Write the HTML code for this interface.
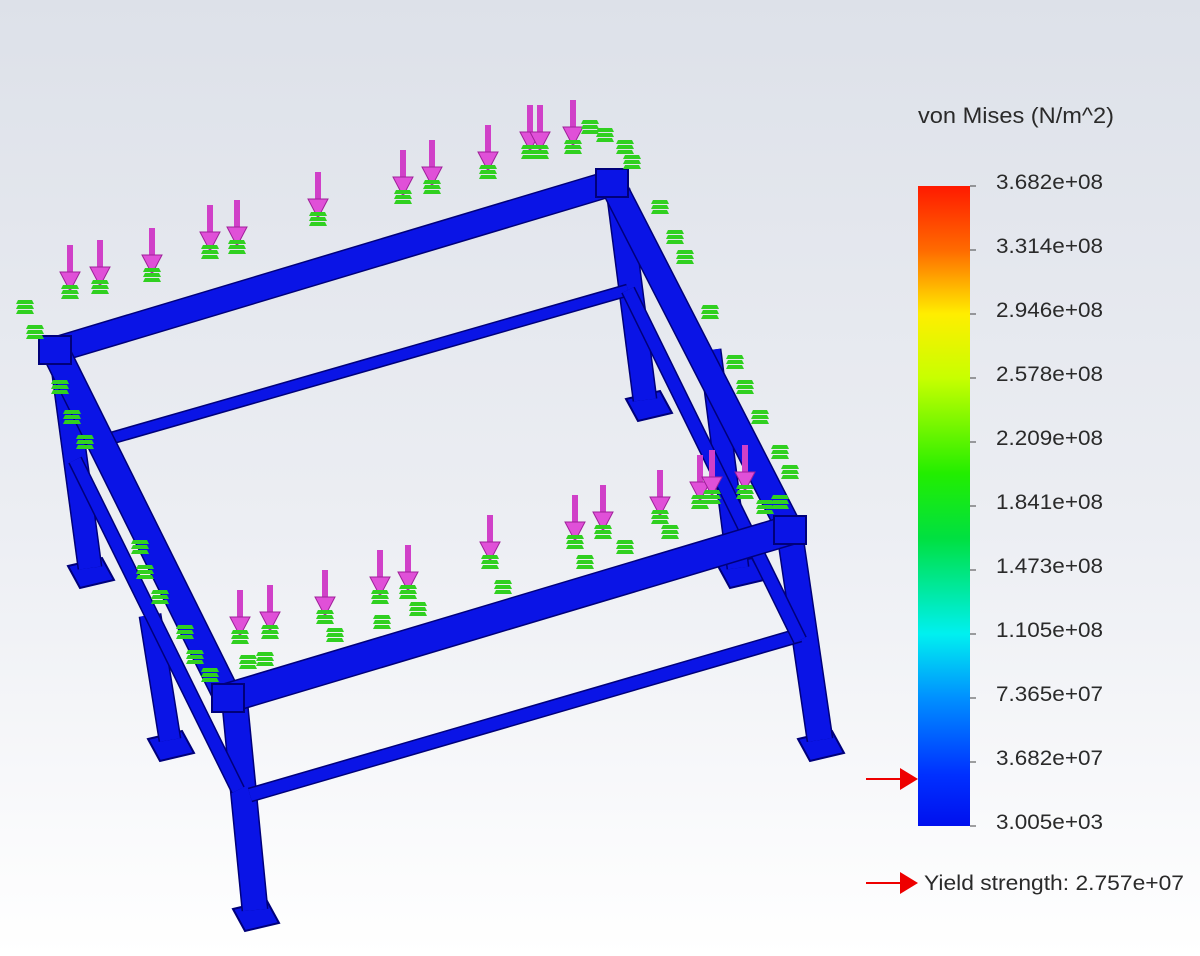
<!DOCTYPE html>
<html><head><meta charset="utf-8"><style>
html,body{margin:0;padding:0;width:1200px;height:956px;overflow:hidden}
body{background:linear-gradient(#dde1e9 0%,#eceef3 55%,#ffffff 100%);font-family:"Liberation Sans",sans-serif}
svg{position:absolute;left:0;top:0}
</style></head><body>
<svg width="1200" height="956">
<defs>
<linearGradient id="cb" x1="0" y1="0" x2="0" y2="1">
<stop offset="0" stop-color="#ff1a00"/><stop offset="0.1" stop-color="#ff6a00"/>
<stop offset="0.2" stop-color="#ffee00"/><stop offset="0.3" stop-color="#c8ff00"/>
<stop offset="0.45" stop-color="#22ee00"/><stop offset="0.55" stop-color="#00e040"/>
<stop offset="0.7" stop-color="#00f0f0"/><stop offset="0.8" stop-color="#0090ff"/>
<stop offset="0.92" stop-color="#0030ff"/><stop offset="1" stop-color="#0010ee"/>
</linearGradient>
</defs>
<g id="frame" stroke-linecap="butt"></g>
<g id="loads"></g>
<g font-size="21" fill="#2a2a2a">
<text x="918" y="123" font-size="22" textLength="196" lengthAdjust="spacingAndGlyphs">von Mises (N/m^2)</text>
<rect x="918" y="186" width="52" height="640" fill="url(#cb)"/>
<g id="ticks"></g>
<path d="M866 779H902" stroke="#e00" stroke-width="2"/>
<polygon points="900,768 918,779 900,790" fill="#e00"/>
<path d="M866 883H902" stroke="#e00" stroke-width="2"/>
<polygon points="900,872 918,883 900,894" fill="#e00"/>
<text x="924" y="890" textLength="260" lengthAdjust="spacingAndGlyphs">Yield strength: 2.757e+07</text>
</g>
</svg>
<script>
const tickLabels=["3.682e+08","3.314e+08","2.946e+08","2.578e+08","2.209e+08","1.841e+08","1.473e+08","1.105e+08","7.365e+07","3.682e+07","3.005e+03"];
const NS="http://www.w3.org/2000/svg";
function mk(tag,attrs,parent){const e=document.createElementNS(NS,tag);for(const k in attrs)e.setAttribute(k,attrs[k]);parent.appendChild(e);return e;}
const tk=document.getElementById('ticks');
tickLabels.forEach((t,i)=>{const y=186+i*64;
 const l=mk('line',{x1:970,x2:976,y1:y,y2:y,stroke:'#444','stroke-width':1},tk);
 
 
 const tx=mk('text',{x:996,y:y+3,textLength:107,lengthAdjust:'spacingAndGlyphs'},tk);tx.textContent=t;
 
 
});
const fr=document.getElementById('frame');
function beam(x1,y1,x2,y2,w,name){
 const g=mk('g',{},fr);
 
 
 mk('line',{x1,y1,x2,y2,stroke:'#00007a','stroke-width':w+3},g);
 mk('line',{x1,y1,x2,y2,stroke:'#0a14e6','stroke-width':w},g);
}
function foot(x,y){const p=mk('polygon',{points:`${x-22},${y-6} ${x+12},${y-14} ${x+24},${y+8} ${x-10},${y+16}`,fill:'#0a14e6',stroke:'#00007a','stroke-width':2},fr);
 
 }
[[90,572],[170,745],[255,915],[820,745],[740,572],[648,405]].forEach(f=>foot(f[0],f[1]));
beam(62,360,90,568,22,'leg-back-left');
beam(150,615,170,740,20,'leg-mid-left');
beam(235,705,255,910,24,'leg-front-left');
beam(618,190,645,400,22,'leg-back-right');
beam(710,350,738,568,20,'leg-mid-right');
beam(790,535,820,740,24,'leg-front-right');
beam(105,440,628,290,10,'lower-rail-back');
beam(250,795,800,635,12,'lower-rail-front');
beam(75,460,238,790,12,'lower-rail-left');
beam(628,290,800,640,12,'lower-rail-right');
beam(55,350,612,183,24,'top-beam-back');
beam(612,183,790,530,24,'top-beam-right');
beam(55,350,228,698,26,'top-beam-left');
beam(228,698,790,530,28,'top-beam-front');
[[55,350],[612,183],[790,530],[228,698]].forEach(c=>{const r=mk('rect',{x:c[0]-16,y:c[1]-14,width:32,height:28,fill:'#0a14e6',stroke:'#00007a','stroke-width':2},fr);
 
 });
const ld=document.getElementById('loads');
function mag(x,y){const g=mk('g',{},ld);
 
 
 mk('line',{x1:x,y1:y,x2:x,y2:y+30,stroke:'#d040c8','stroke-width':6},g);
 mk('polygon',{points:`${x-10},${y+27} ${x+10},${y+27} ${x},${y+46}`,fill:'#e050d8',stroke:'#a0209a','stroke-width':1},g);}
function grn(x,y){const g=mk('g',{},ld);
 
 
 for(let i=0;i<3;i++)mk('polygon',{points:`${x-7},${y+i*5} ${x+7},${y+i*5} ${x+9},${y+i*5+4} ${x-9},${y+i*5+4}`,fill:'#30d020'},g);}
[[70,245],[100,240],[152,228],[210,205],[237,200],[318,172],[403,150],[432,140],[488,125],[530,105],[540,105],[573,100],
 [240,590],[270,585],[325,570],[380,550],[408,545],[490,515],[575,495],[603,485],[660,470],[700,455],[712,450],[745,445]].forEach(p=>{mag(p[0],p[1]);grn(p[0],p[1]+40);});
[[25,300],[35,325],[60,380],[72,410],[85,435],[140,540],[145,565],[160,590],[185,625],[195,650],[210,668],[248,655],[265,652],
 [590,120],[605,128],[625,140],[632,155],[660,200],[675,230],[685,250],[710,305],[735,355],[745,380],[760,410],[780,445],[790,465],[765,500],[780,495],[585,555],[625,540],[670,525],[335,628],[382,615],[418,602],[503,580]].forEach(p=>grn(p[0],p[1]));
</script>
</body></html>
